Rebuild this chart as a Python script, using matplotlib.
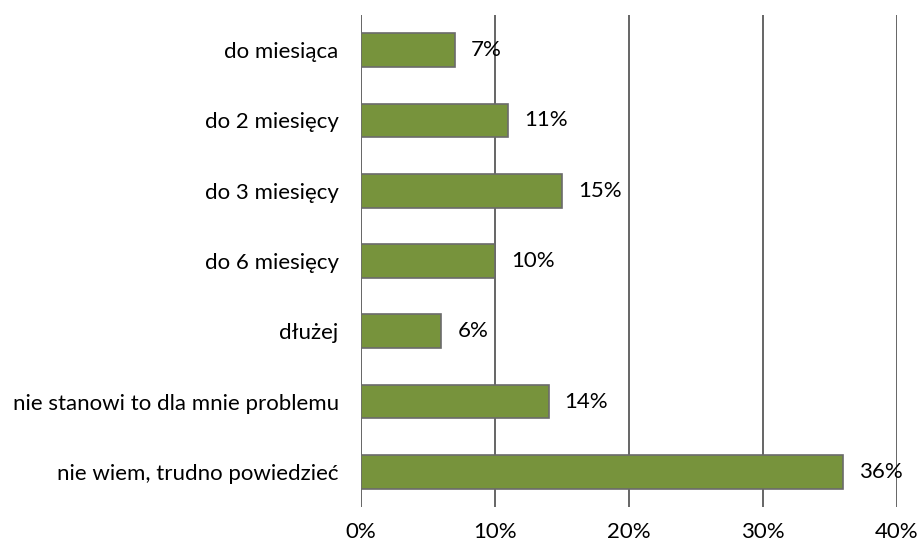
import matplotlib
matplotlib.use("Agg")
import matplotlib.pyplot as plt

categories = ["do miesiąca", "do 2 miesięcy", "do 3 miesięcy", "do 6 miesięcy",
              "dłużej", "nie stanowi to dla mnie problemu", "nie wiem, trudno powiedzieć"]
values = [7, 11, 15, 10, 6, 14, 36]
xticks = [0, 10, 20, 30, 40]
xtick_labels = ["0%", "10%", "20%", "30%", "40%"]

plt.rcParams['font.family'] = ['Lato', 'DejaVu Sans']

fig = plt.figure(figsize=(9.22, 5.49), dpi=100)
ax = fig.add_axes([0.3915, 0.0765, 0.5814, 0.8962])

ypos = list(range(len(categories)))
ax.barh(ypos, values, height=0.48, color="#77933C", edgecolor="#6b6b6b", linewidth=1.2, zorder=3)
for y, v in zip(ypos, values):
    ax.annotate(f"{v}%", xy=(v, y), xytext=(11.5, 0), textcoords="offset points",
                va="center", ha="left", fontsize=16, color="#000000", zorder=4)

ax.set_xlim(0, 40)
ax.set_ylim(len(categories) - 0.5, -0.5)
ax.set_xticks(xticks)
ax.set_xticklabels(xtick_labels, fontsize=16)
ax.set_yticks(ypos)
ax.set_yticklabels(categories, fontsize=16)
ax.tick_params(axis='both', length=0)
ax.tick_params(axis='x', pad=11)
ax.tick_params(axis='y', pad=16)
ax.grid(axis='x', color="#595959", linewidth=1.3, zorder=1)
for s in ax.spines.values():
    s.set_visible(False)

fig.savefig("out.png", dpi=100)
